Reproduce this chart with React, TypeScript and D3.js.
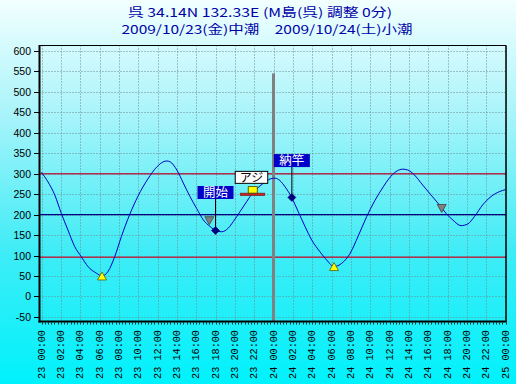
import React from "react";
import * as d3 from "d3";

// Tide curve: hours since 2009/10/23 00:00, level (cm)
const tideHours = [0, 0.67, 1.37, 2.05, 2.74, 3.43, 4.12, 4.81, 5.67, 6.26, 6.88, 7.57, 8.26, 9.12, 9.98, 11.0, 11.95, 12.6, 12.95, 13.3, 14.0, 14.67, 15.36, 16.05, 16.74, 17.43, 18.05, 18.64, 19.32, 19.84, 20.53, 21.23, 21.57, 22.5, 23.3, 23.64, 24.15, 24.67, 25.19, 25.88, 26.56, 27.26, 27.95, 28.81, 29.5, 30.26, 31.06, 31.92, 32.77, 33.64, 34.5, 35.36, 35.98, 36.67, 37.36, 37.88, 38.57, 39.44, 40.29, 41.15, 41.85, 42.54, 43.4, 44.09, 44.78, 45.65, 46.5, 47.36, 48.0];
const tideLevels = [303, 280, 248, 203, 162, 122, 97, 73, 57, 50, 61, 97, 146, 200, 245, 287, 317, 329, 331, 329, 309, 277, 244, 215, 187, 171, 161, 158, 167, 183, 207, 232, 244, 268, 282, 287, 289, 283, 268, 242, 207, 171, 138, 109, 89, 73, 81, 105, 148, 195, 235, 268, 289, 305, 311, 309, 297, 272, 248, 224, 203, 187, 173, 177, 195, 224, 244, 256, 261];

const yTicks = [600, 550, 500, 450, 400, 350, 300, 250, 200, 150, 100, 50, 0, -50];
const xTickHours = d3.range(0, 49, 2);
const xTickLabels = xTickHours.map((h) => {
  const day = 23 + Math.floor(h / 24);
  const hh = h % 24;
  return `${day} ${String(hh).padStart(2, "0")}:00`;
});

const redLevels = [300, 96];
const blueLevels = [200];

const lowTideHours = [6.26, 30.26];
const lowTideLevels = [50, 73];
const greyMarkHours = [17.36, 41.4];
const greyMarkLevels = [185, 215];

const eventLabels = ["開始", "納竿"];
const eventHours = [18.0, 25.9];
const eventLevels = [161, 242];
const eventLabelLevels = [254, 332];

const fishLabel = "アジ";
const fishHour = 21.8;
const fishLevel = 250;
const fishLabelLevel = 291;

const titleLine1 = "呉 34.14N 132.33E (M島(呉) 調整 0分)";
const titleLine2 = "2009/10/23(金)中潮　2009/10/24(土)小潮";

const W = 516;
const H = 384;

export default function App() {
  const x = d3.scaleLinear().domain([0, 48]).range([41.5, 505.5]);
  const y = d3.scaleLinear().domain([-50, 600]).range([316.9, 50.9]);
  const left = 39.5;
  const right = 506;
  const top = 45.5;
  const bottom = 321.5;

  const pts: [number, number][] = tideHours.map((h, i) => [x(h), y(tideLevels[i])]);
  const line = d3.line().curve(d3.curveMonotoneX)(pts) || "";

  const minorTicks = d3.range(0, 48 * 3 + 1).map((i) => i / 3);

  const tri = (cx: number, cy: number, up: boolean) => {
    const w = 4.5, h = 4;
    return up
      ? `M${cx},${cy - h}L${cx + w},${cy + h}L${cx - w},${cy + h}Z`
      : `M${cx},${cy + h}L${cx + w},${cy - h}L${cx - w},${cy - h}Z`;
  };
  const diamond = (cx: number, cy: number) => {
    const r = 4;
    return `M${cx},${cy - r}L${cx + r},${cy}L${cx},${cy + r}L${cx - r},${cy}Z`;
  };

  const fx = x(fishHour);
  const fy = y(fishLevel);
  const fly = y(fishLabelLevel);

  return (
    <svg width={W} height={H} style={{ position: "absolute", left: 0, top: 0 }}>
      <defs>
        <linearGradient id="bg" x1="0" y1="0" x2="0" y2="1">
          <stop offset="0" stopColor="#f2ffff" />
          <stop offset="0.3" stopColor="#a8f4fa" />
          <stop offset="0.65" stopColor="#40ecf6" />
          <stop offset="1" stopColor="#00f2fc" />
        </linearGradient>
      </defs>
      <rect x={0} y={0} width={W} height={H} fill="url(#bg)" />

      <text x={260} y={17} textAnchor="middle" fontFamily="'Noto Sans CJK JP', sans-serif" fontSize={12} fill="#0000a8" textLength={264} lengthAdjust="spacingAndGlyphs">{titleLine1}</text>
      <text x={267} y={34} textAnchor="middle" fontFamily="'Noto Sans CJK JP', sans-serif" fontSize={12} fill="#0000a8" textLength={291} lengthAdjust="spacingAndGlyphs">{titleLine2}</text>

      {/* grid */}
      {yTicks.map((v) => (
        <line key={"gy" + v} x1={left} x2={right} y1={Math.round(y(v)) + 0.5} y2={Math.round(y(v)) + 0.5} stroke="#6a8a90" strokeWidth={1} strokeDasharray="1,2" />
      ))}
      {xTickHours.map((h) => (
        <line key={"gx" + h} x1={Math.round(x(h)) + 0.5} x2={Math.round(x(h)) + 0.5} y1={top} y2={bottom} stroke="#6a8a90" strokeWidth={1} strokeDasharray="1,2" />
      ))}

      {/* reference lines */}
      {redLevels.map((v) => (
        <line key={"r" + v} x1={left} x2={right} y1={y(v)} y2={y(v)} stroke="#b03050" strokeWidth={1.5} />
      ))}
      {blueLevels.map((v) => (
        <line key={"b" + v} x1={left} x2={right} y1={y(v)} y2={y(v)} stroke="#000080" strokeWidth={1.2} />
      ))}

      {/* day separator */}
      <line x1={x(24)} x2={x(24)} y1={y(545)} y2={bottom} stroke="#808080" strokeWidth={3} />

      {/* tide curve */}
      <path d={line} fill="none" stroke="#0000c0" strokeWidth={1} />

      {/* low tide markers */}
      {lowTideHours.map((h, i) => (
        <path key={"lt" + i} d={tri(x(h), y(lowTideLevels[i]), true)} fill="#ffff00" stroke="#606000" strokeWidth={0.8} />
      ))}
      {greyMarkHours.map((h, i) => (
        <path key={"gm" + i} d={tri(x(h), y(greyMarkLevels[i]), false)} fill="#808080" stroke="#404040" strokeWidth={0.8} />
      ))}

      {/* events */}
      {eventLabels.map((lab, i) => {
        const ex = x(eventHours[i]);
        const ey = y(eventLevels[i]);
        const ly = y(eventLabelLevels[i]);
        return (
          <g key={"ev" + i}>
            <line x1={ex} x2={ex} y1={ly} y2={ey} stroke="#000000" strokeWidth={1} />
            <rect x={ex - 18} y={ly - 6.5} width={36} height={13} fill="#0000c8" />
            <text x={ex} y={ly + 4.6} textAnchor="middle" fontFamily="'Noto Sans CJK JP', sans-serif" fontSize={12.5} fill="#ffffff">{lab}</text>
            <path d={diamond(ex, ey)} fill="#000080" stroke="#000060" strokeWidth={0.6} />
          </g>
        );
      })}

      {/* fish marker */}
      <g>
        <rect x={fx - 12} y={fy - 1} width={24.5} height={2.5} fill="#d02020" stroke="#602020" strokeWidth={0.6} />
        <rect x={fx - 4} y={fy - 7.5} width={9} height={6.5} fill="#ffff00" stroke="#404000" strokeWidth={0.8} />
        <rect x={fx - 17} y={fly - 6} width={32.5} height={12} fill="#ffffff" stroke="#000000" strokeWidth={1} />
        <text x={fx - 0.8} y={fly + 4.5} textAnchor="middle" fontFamily="'Noto Sans CJK JP', sans-serif" fontSize={12} fill="#000000">{fishLabel}</text>
      </g>

      {/* frame */}
      <line x1={left} x2={right} y1={top} y2={top} stroke="#000" strokeWidth={1} />
      <line x1={right} x2={right} y1={top} y2={bottom} stroke="#000" strokeWidth={1.5} />
      <line x1={left} x2={left} y1={top - 0.5} y2={bottom + 1} stroke="#000" strokeWidth={2} />
      <line x1={left - 1} x2={right + 0.75} y1={bottom} y2={bottom} stroke="#000" strokeWidth={2} />

      {/* y axis ticks & labels */}
      {yTicks.map((v) => (
        <g key={"yt" + v}>
          <line x1={34} x2={left} y1={Math.round(y(v)) + 0.5} y2={Math.round(y(v)) + 0.5} stroke="#000" strokeWidth={1} />
          <text x={31} y={y(v) + 4} textAnchor="end" fontFamily="'Liberation Sans', Arial, sans-serif" fontSize={10.5} fill="#000">{v}</text>
        </g>
      ))}

      {/* x axis ticks */}
      {minorTicks.map((h, i) => (
        <line key={"mt" + i} x1={Math.round(x(h)) + 0.5} x2={Math.round(x(h)) + 0.5} y1={bottom + 1} y2={bottom + 3} stroke="#000" strokeWidth={0.8} />
      ))}
      {xTickHours.map((h, i) => (
        <text key={"xl" + h} transform={`translate(${x(h) + 0.5},330) rotate(-90)`} textAnchor="end" dominantBaseline="central" fontFamily="'Liberation Mono', 'DejaVu Sans Mono', monospace" fontSize={10.2} fill="#000">{xTickLabels[i]}</text>
      ))}
    </svg>
  );
}
